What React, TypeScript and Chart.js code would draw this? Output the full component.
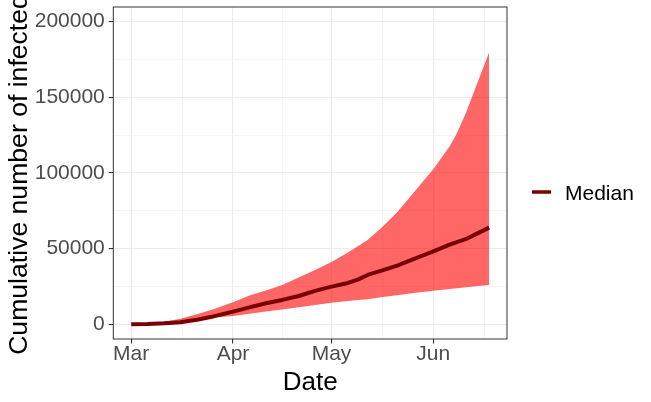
import React, { useEffect, useRef } from 'react';
import { Chart, registerables } from 'chart.js';

Chart.register(...registerables);

// Days since 1 March
const days = [0, 5, 10, 15, 20, 25, 31, 36, 41, 46, 51, 56, 61, 66, 69, 72, 76, 81, 86, 92, 97, 99, 102, 105, 109];
const upper = [0, 500, 1600, 3600, 6700, 10000, 14500, 19000, 22300, 26000, 30900, 35900, 41200, 47400, 51500, 55700, 63300, 74000, 87000, 102500, 117700, 125500, 140000, 157200, 179700];
const median = [0, 200, 650, 1400, 3000, 5200, 8400, 11200, 13900, 16100, 18700, 22100, 24900, 27300, 29500, 32600, 35300, 38800, 43100, 48200, 52600, 54200, 56400, 59600, 63900];
const lower = [0, 200, 700, 1600, 3100, 4300, 5500, 7000, 8400, 9800, 11200, 12800, 14300, 15400, 16000, 16600, 17800, 19200, 20600, 22100, 23300, 23800, 24500, 25200, 26000];

const xMajorTicks = [0, 31, 61, 92];
const xMajorLabels = ['Mar', 'Apr', 'May', 'Jun'];
const xMinorTicks = [15.5, 46, 76.5, 107.5];
const yMajorTicks = [0, 50000, 100000, 150000, 200000];
const yMinorTicks = [25000, 75000, 125000, 175000];

const legendLabel = 'Median';
const xTitle = 'Date';
const yTitle = 'Cumulative number of infected';

const FONT = '"Liberation Sans", Arial, Helvetica, sans-serif';
const LINE_COLOR = '#780000';
const RIBBON_COLOR = 'rgba(255, 0, 0, 0.6)';

const overlay = {
  id: 'overlay',
  afterDatasetsDraw(chart: any) {
    const { ctx, chartArea } = chart;
    ctx.save();
    ctx.strokeStyle = '#333333';
    ctx.lineWidth = 1;
    ctx.strokeRect(chartArea.left, chartArea.top, chartArea.right - chartArea.left, chartArea.bottom - chartArea.top);
    ctx.restore();
  },
  afterDraw(chart: any) {
    const { ctx, chartArea } = chart;
    ctx.save();
    ctx.fillStyle = '#000000';
    ctx.font = `26px ${FONT}`;
    ctx.textAlign = 'center';
    ctx.textBaseline = 'alphabetic';
    ctx.fillText(xTitle, (chartArea.left + chartArea.right) / 2, 390);
    ctx.save();
    ctx.font = `26.6px ${FONT}`;
    ctx.translate(26.5, 174.5);
    ctx.rotate(-Math.PI / 2);
    ctx.fillText(yTitle, 0, 0);
    ctx.restore();
    // legend
    ctx.strokeStyle = LINE_COLOR;
    ctx.lineWidth = 3.5;
    ctx.beginPath();
    ctx.moveTo(532, 192);
    ctx.lineTo(551, 192);
    ctx.stroke();
    ctx.font = `21px ${FONT}`;
    ctx.textAlign = 'left';
    ctx.textBaseline = 'alphabetic';
    ctx.fillText(legendLabel, 565, 200);
    ctx.restore();
  },
};

export default function App() {
  const ref = useRef<HTMLCanvasElement | null>(null);
  useEffect(() => {
    document.body.style.margin = '0';
    const canvas = ref.current;
    if (!canvas) return;
    const pts = (vals: number[]) => days.map((d, i) => ({ x: d, y: vals[i] }));
    const isXMajor = (v: number) => xMajorTicks.indexOf(v) >= 0;
    const isYMajor = (v: number) => yMajorTicks.indexOf(v) >= 0;
    const chart = new Chart(canvas, {
      type: 'line',
      data: {
        datasets: [
          { label: 'lower', data: pts(lower), borderWidth: 0, pointRadius: 0, fill: false, order: 2, tension: 0 },
          { label: 'upper', data: pts(upper), borderWidth: 0, pointRadius: 0, fill: '-1', backgroundColor: RIBBON_COLOR, order: 1, tension: 0 },
          { label: legendLabel, data: pts(median), borderColor: LINE_COLOR, borderWidth: 4, pointRadius: 0, fill: false, order: 0, tension: 0, borderCapStyle: 'butt', borderJoinStyle: 'round' },
        ],
      } as any,
      options: {
        animation: false,
        responsive: false,
        maintainAspectRatio: false,
        layout: { padding: { top: 7, right: 144, left: 0, bottom: 0 } },
        plugins: { legend: { display: false }, tooltip: { enabled: false } },
        scales: {
          x: {
            type: 'linear',
            min: -5.45,
            max: 114.45,
            afterBuildTicks: (s: any) => {
              s.ticks = [...xMajorTicks, ...xMinorTicks].sort((a, b) => a - b).map((v) => ({ value: v }));
            },
            afterFit: (s: any) => { s.height = 63; s.paddingLeft = 0; s.paddingRight = 0; },
            ticks: {
              autoSkip: false,
              maxRotation: 0,
              minRotation: 0,
              padding: 0,
              color: '#4D4D4D',
              font: { family: FONT, size: 21, lineHeight: 1 },
              callback: (v: any) => {
                const i = xMajorTicks.indexOf(v);
                return i >= 0 ? xMajorLabels[i] : '';
              },
            },
            grid: {
              color: (c: any) => (isXMajor(c.tick?.value) ? '#EBEBEB' : '#F3F3F3'),
              lineWidth: (c: any) => (isXMajor(c.tick?.value) ? 1.1 : 0.8),
              tickColor: (c: any) => (isXMajor(c.tick?.value) ? '#333333' : 'rgba(0,0,0,0)'),
              tickLength: 4.5,
              drawTicks: true,
            },
            border: { display: false },
          },
          y: {
            type: 'linear',
            min: -9726,
            max: 209700,
            afterBuildTicks: (s: any) => {
              s.ticks = [...yMajorTicks, ...yMinorTicks].sort((a, b) => a - b).map((v) => ({ value: v }));
            },
            afterFit: (s: any) => { s.width = 113.3; s.paddingTop = 0; s.paddingBottom = 0; },
            ticks: {
              autoSkip: false,
              padding: 4,
              color: '#4D4D4D',
              font: { family: FONT, size: 21, lineHeight: 1 },
              callback: (v: any) => (isYMajor(v) ? String(v) : ''),
            },
            grid: {
              color: (c: any) => (isYMajor(c.tick?.value) ? '#EBEBEB' : '#F3F3F3'),
              lineWidth: (c: any) => (isYMajor(c.tick?.value) ? 1.1 : 0.8),
              tickColor: (c: any) => (isYMajor(c.tick?.value) ? '#333333' : 'rgba(0,0,0,0)'),
              tickLength: 4.5,
              drawTicks: true,
            },
            border: { display: false },
          },
        },
      } as any,
      plugins: [overlay],
    });
    return () => chart.destroy();
  }, []);
  return (
    <div style={{ width: 651, height: 402 }}>
      <canvas ref={ref} width={651} height={402} style={{ display: 'block' }} />
    </div>
  );
}
